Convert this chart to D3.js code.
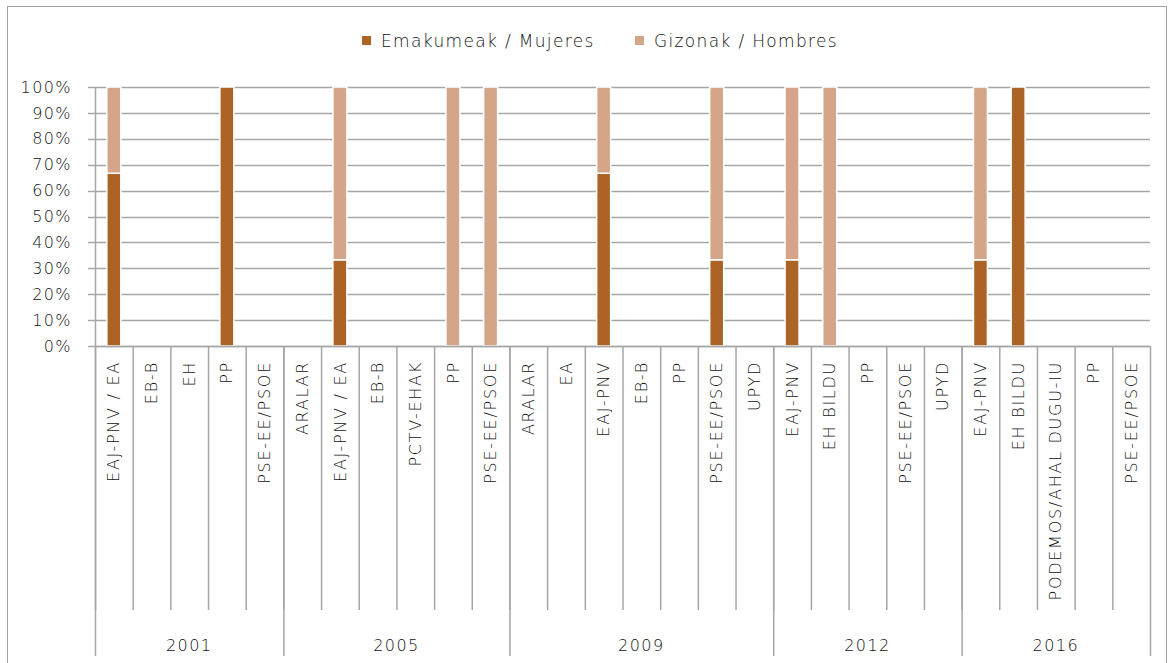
<!DOCTYPE html>
<html><head><meta charset="utf-8">
<script src="https://cdn.jsdelivr.net/npm/d3@7"></script>
<style>body{margin:0;background:#fff;}svg{display:block;font-family:"DejaVu Sans",sans-serif;}</style>
</head><body><svg id="c" width="1174" height="663"></svg>
<script>
const years = ["2001","2005","2009","2012","2016"];
const parties = [
  ["EAJ-PNV / EA","EB-B","EH","PP","PSE-EE/PSOE"],
  ["ARALAR","EAJ-PNV / EA","EB-B","PCTV-EHAK","PP","PSE-EE/PSOE"],
  ["ARALAR","EA","EAJ-PNV","EB-B","PP","PSE-EE/PSOE","UPYD"],
  ["EAJ-PNV","EH BILDU","PP","PSE-EE/PSOE","UPYD"],
  ["EAJ-PNV","EH BILDU","PODEMOS/AHAL DUGU-IU","PP","PSE-EE/PSOE"]
];
const women = [
  [0.667,0,0,1,0],
  [0,0.333,0,0,0,0],
  [0,0,0.667,0,0,0.333,0],
  [0.333,0,0,0,0],
  [0.333,1,0,0,0]
];
const men = [
  [0.333,0,0,0,0],
  [0,0.667,0,0,1,1],
  [0,0,0.333,0,0,0.667,0],
  [0.667,1,0,0,0],
  [0.667,0,0,0,0]
];
const seriesNames = ["Emakumeak / Mujeres","Gizonak / Hombres"];
const colors = ["#ac6426","#d5a58a"];
const yTicks = [0,0.1,0.2,0.3,0.4,0.5,0.6,0.7,0.8,0.9,1];

const rows = [];
years.forEach((y,gi)=>parties[gi].forEach((p,i)=>rows.push({key:y+"|"+i, year:y, party:p, w:women[gi][i], m:men[gi][i]})));

const svg = d3.select("#c");
const L=95, R=1150, T=87, B=346;
const x = d3.scaleBand().domain(rows.map(r=>r.key)).range([L,R]).padding(0);
const y = d3.scaleLinear().domain([0,1]).range([B,T]);
const grid="#a6a6a6";
const txt="#111";
const FW=200;

// one shared letter-spacing for a group, fitted to the sum of sample widths
function spacingFor(sel, pairs){
  let nat=0, gaps=0, tgt=0;
  sel.each(function(){ this.setAttribute("letter-spacing",0); });
  sel.each(function(d){ const t=this.textContent; const p=pairs.find(q=>q[0]===t); if(p && !p.used){ p.used=true; nat+=this.getComputedTextLength(); gaps+=t.length-1; tgt+=p[1]; } });
  return Math.max(-1,(tgt-nat)/Math.max(1,gaps)).toFixed(2);
}

// outer border
svg.append("rect").attr("x",7.5).attr("y",6.5).attr("width",1159).attr("height",670).attr("fill","none").attr("stroke","#a0a0a0").attr("stroke-width",1);

// gridlines
svg.append("g").selectAll("line").data(yTicks).join("line")
  .attr("x1",L-7).attr("x2",R).attr("y1",d=>Math.round(y(d))+0.5).attr("y2",d=>Math.round(y(d))+0.5)
  .attr("stroke",grid).attr("stroke-width",1.5);

// y labels
const yl = svg.append("g").selectAll("text").data(yTicks).join("text")
  .attr("x",72).attr("y",d=>y(d)).attr("dy","0.35em").attr("text-anchor","end")
  .attr("font-size",16).attr("font-weight",FW).attr("fill",txt).text(d=>d3.format(".0%")(d));
yl.attr("letter-spacing", spacingFor(yl,[["100%",50]]));

// y axis line
svg.append("line").attr("x1",L+0.5).attr("x2",L+0.5).attr("y1",T).attr("y2",B).attr("stroke",grid).attr("stroke-width",1.5);

// bars
const stack = d3.stack().keys(["w","m"])(rows);
const bw = 12;
svg.append("g").selectAll("g").data(stack).join("g").attr("fill",(d,i)=>colors[i])
  .selectAll("rect").data(d=>d).join("rect")
  .attr("x",d=>x(d.data.key)+x.bandwidth()/2-bw/2-1)
  .attr("width",bw+2)
  .attr("y",d=>y(d[1]))
  .attr("height",d=>Math.max(0,y(d[0])-y(d[1])))
  .attr("stroke",d=>(d[1]-d[0])>0?"#fff":"none").attr("stroke-width",1.5)
  .attr("display",d=>(d[1]-d[0])>0?null:"none");

// category ticks
const catBottom=610, grpBottom=656;
svg.append("g").selectAll("line").data(rows).join("line")
  .attr("x1",d=>x(d.key)+0.5).attr("x2",d=>x(d.key)+0.5).attr("y1",B).attr("y2",catBottom)
  .attr("stroke",grid).attr("stroke-width",1.5);
// group boundaries
const groupEdges=[];
let idx=0;
years.forEach((yr,gi)=>{groupEdges.push({start:idx,end:idx+parties[gi].length,year:yr}); idx+=parties[gi].length;});
const edgeX = k => k<rows.length? x(rows[k].key) : R;
svg.append("g").selectAll("line").data([0].concat(groupEdges.map(g=>g.end))).join("line")
  .attr("x1",d=>edgeX(d)+0.5).attr("x2",d=>edgeX(d)+0.5).attr("y1",B).attr("y2",grpBottom)
  .attr("stroke",grid).attr("stroke-width",1.5);
// baseline
svg.append("line").attr("x1",L).attr("x2",R).attr("y1",B+0.5).attr("y2",B+0.5).attr("stroke",grid).attr("stroke-width",1.5);

// category labels
const cl = svg.append("g").selectAll("text").data(rows).join("text")
  .attr("transform",d=>`translate(${x(d.key)+x.bandwidth()/2},361) rotate(-90)`)
  .attr("dy","0.35em").attr("text-anchor","end").attr("font-size",16).attr("font-weight",FW).attr("fill",txt)
  .text(d=>d.party);
cl.attr("letter-spacing", spacingFor(cl,[["PSE-EE/PSOE",121],["EAJ-PNV / EA",115],["PODEMOS/AHAL DUGU-IU",242]]));

// year labels
const yrl = svg.append("g").selectAll("text").data(groupEdges).join("text")
  .attr("x",d=>(edgeX(d.start)+edgeX(d.end))/2).attr("y",645).attr("dy","0.35em")
  .attr("text-anchor","middle").attr("font-size",16).attr("font-weight",FW).attr("fill",txt).text(d=>d.year);
yrl.attr("letter-spacing", spacingFor(yrl,[["2001",45]]));

// legend
const legX=[362,635];
const lg=svg.append("g").selectAll("g").data(seriesNames).join("g").attr("transform",(d,i)=>`translate(${legX[i]},41)`);
lg.append("rect").attr("x",0).attr("y",-5).attr("width",9).attr("height",9).attr("fill",(d,i)=>colors[i]);
const lt = lg.append("text").attr("x",19).attr("y",0).attr("dy","0.35em").attr("font-size",17).attr("font-weight",FW).attr("fill",txt).text(d=>d);
lt.attr("letter-spacing", spacingFor(lt,[["Emakumeak / Mujeres",213],["Gizonak / Hombres",182]]));
</script></body></html>
